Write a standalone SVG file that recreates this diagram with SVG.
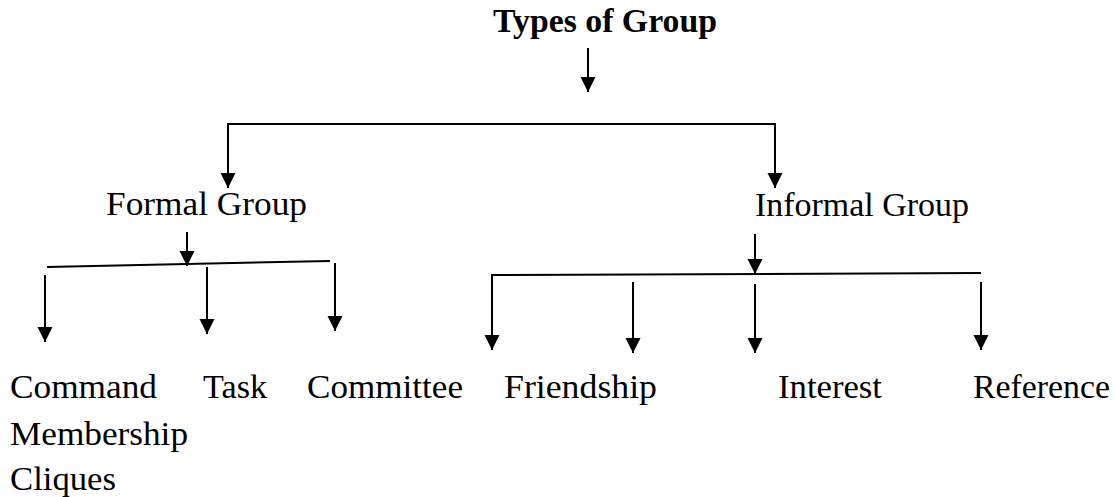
<svg xmlns="http://www.w3.org/2000/svg" width="1115" height="497" viewBox="0 0 1115 497">
  <style>
    text { font-family: "Liberation Serif", "Times New Roman", serif; font-size: 33px; fill: #000; }
    .title { font-weight: bold; }
    .line { stroke: #000; stroke-width: 2; fill: none; }
    .arrow { stroke: #000; stroke-width: 2; fill: none; marker-end: url(#head); }
  </style>
  <defs>
    <marker id="head" markerUnits="userSpaceOnUse" markerWidth="16" markerHeight="17" refX="15" refY="7.5" orient="auto">
      <path d="M0,0 L15,7.5 L0,15 Z" fill="#000"/>
    </marker>
  </defs>

  <g id="root">
    <text class="title" x="493" y="32" textLength="224" lengthAdjust="spacingAndGlyphs">Types of Group</text>
  </g>

  <g id="formal">
    <text x="106" y="215" textLength="201" lengthAdjust="spacingAndGlyphs">Formal Group</text>
  </g>
  <g id="informal">
    <text x="755" y="216" textLength="214" lengthAdjust="spacingAndGlyphs">Informal Group</text>
  </g>

  <g id="command"><text x="10" y="398" textLength="147" lengthAdjust="spacingAndGlyphs">Command</text></g>
  <g id="task"><text x="203" y="398" textLength="64" lengthAdjust="spacingAndGlyphs">Task</text></g>
  <g id="committee"><text x="307" y="398" textLength="156" lengthAdjust="spacingAndGlyphs">Committee</text></g>
  <g id="membership"><text x="10" y="445" textLength="178" lengthAdjust="spacingAndGlyphs">Membership</text></g>
  <g id="cliques"><text x="10" y="490" textLength="106" lengthAdjust="spacingAndGlyphs">Cliques</text></g>
  <g id="friendship"><text x="504" y="398" textLength="153" lengthAdjust="spacingAndGlyphs">Friendship</text></g>
  <g id="interest"><text x="778" y="398" textLength="104" lengthAdjust="spacingAndGlyphs">Interest</text></g>
  <g id="reference"><text x="973" y="398" textLength="137" lengthAdjust="spacingAndGlyphs">Reference</text></g>

  <g id="connectors">
    <!-- title to split bar -->
    <line class="arrow" x1="588" y1="48" x2="588" y2="92"/>
    <line class="line" x1="228" y1="124" x2="776" y2="124"/>
    <line class="arrow" x1="228" y1="123" x2="228" y2="188"/>
    <line class="arrow" x1="775" y1="123" x2="775" y2="188"/>

    <!-- formal branch -->
    <line class="arrow" x1="187" y1="232" x2="187" y2="266"/>
    <line class="line" x1="47" y1="267" x2="330" y2="261"/>
    <line class="arrow" x1="45" y1="275" x2="45" y2="342"/>
    <line class="arrow" x1="207" y1="267" x2="207" y2="334"/>
    <line class="arrow" x1="335" y1="263" x2="335" y2="331"/>

    <!-- informal branch -->
    <line class="arrow" x1="755" y1="234" x2="755" y2="274"/>
    <line class="line" x1="491" y1="275" x2="981" y2="273"/>
    <line class="arrow" x1="492" y1="274" x2="492" y2="350"/>
    <line class="arrow" x1="633" y1="282" x2="633" y2="353"/>
    <line class="arrow" x1="755" y1="284" x2="755" y2="353"/>
    <line class="arrow" x1="981" y1="282" x2="981" y2="350"/>
  </g>
</svg>
